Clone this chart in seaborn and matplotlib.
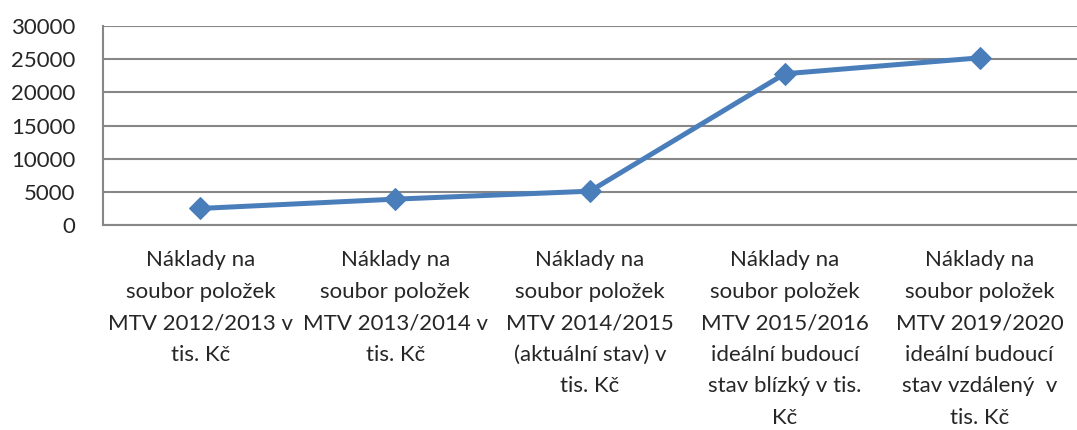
import numpy as np
import pandas as pd
import matplotlib
matplotlib.use('Agg')
import matplotlib.pyplot as plt
import seaborn as sns

# data
categories = [
    'Náklady na\nsoubor položek\nMTV 2012/2013 v\ntis. Kč',
    'Náklady na\nsoubor položek\nMTV 2013/2014 v\ntis. Kč',
    'Náklady na\nsoubor položek\nMTV 2014/2015\n(aktuální stav) v\ntis. Kč',
    'Náklady na\nsoubor položek\nMTV 2015/2016\nideální budoucí\nstav blízký v tis.\nKč',
    'Náklady na\nsoubor položek\nMTV 2019/2020\nideální budoucí\nstav vzdálený  v\ntis. Kč',
]
values = [2500, 3900, 5100, 22800, 25200]
y_ticks = [0, 5000, 10000, 15000, 20000, 25000, 30000]

sns.set_style('white')
plt.rcParams['font.family'] = ['Lato', 'DejaVu Sans']

df = pd.DataFrame({'pos': np.arange(len(values)), 'value': values})

fig = plt.figure(figsize=(10.77, 4.30), dpi=100)
ax = fig.add_axes([0.0956, 0.4767, 0.9044, 0.4628])

grid_col = '#878787'
line_col = '#4A7EBB'

sns.lineplot(data=df, x='pos', y='value', ax=ax, color=line_col, linewidth=3.6,
             marker='D', markersize=11, markeredgecolor=line_col, zorder=3)

ax.set_ylim(0, 30000)
ax.set_xlim(-0.5, 4.447)
ax.set_yticks(y_ticks)
ax.set_yticklabels([str(v) for v in y_ticks], fontsize=16)
ax.yaxis.grid(True, color=grid_col, linewidth=1.5)
ax.set_axisbelow(True)

# category labels at centres, tick marks at boundaries
ax.set_xticks(range(len(categories)))
ax.set_xticklabels(categories, fontsize=16, linespacing=1.72, va='top')
ax.tick_params(axis='x', length=0, pad=18)
ax.set_xticks(np.arange(-0.5, len(categories), 1.0), minor=True)
ax.tick_params(axis='x', which='minor', length=7, width=1.5, color=grid_col)
ax.tick_params(axis='y', length=7, width=1.5, color=grid_col, pad=13)

ax.set_xlabel('')
ax.set_ylabel('')
for side in ['top', 'right']:
    ax.spines[side].set_visible(False)
for side in ['left', 'bottom']:
    ax.spines[side].set_color(grid_col)
    ax.spines[side].set_linewidth(1.5)

fig.savefig('out.png', dpi=100)
